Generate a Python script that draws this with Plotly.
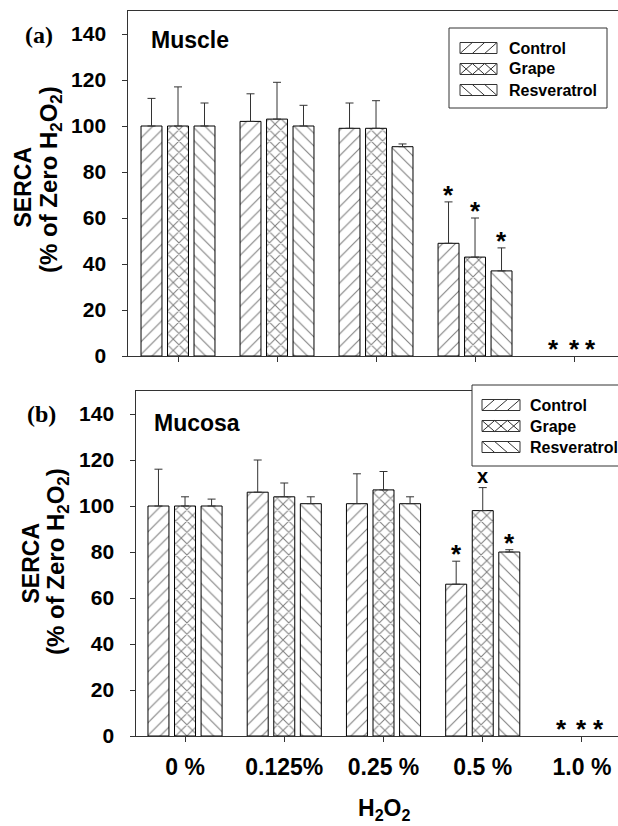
import plotly.graph_objects as go

W, H = 618, 826

# ---------------- data ----------------
categories = ["0 %", "0.125%", "0.25 %", "0.5 %", "1.0 %"]
series = ["Control", "Grape", "Resveratrol"]
y_ticks = [0, 20, 40, 60, 80, 100, 120, 140]

muscle_control = [100, 102, 99, 49, 0]
muscle_control_err = [12, 12, 11, 18, 0]
muscle_grape = [100, 103, 99, 43, 0]
muscle_grape_err = [17, 16, 12, 17, 0]
muscle_resveratrol = [100, 100, 91, 37, 0]
muscle_resveratrol_err = [10, 9, 1.2, 10, 0]

mucosa_control = [100, 106, 101, 66, 0]
mucosa_control_err = [16, 14, 13, 10, 0]
mucosa_grape = [100, 104, 107, 98, 0]
mucosa_grape_err = [4, 6, 8, 10, 0]
mucosa_resveratrol = [100, 101, 101, 80, 0]
mucosa_resveratrol_err = [3, 3, 3, 1, 0]

muscle_sig_control = ["", "", "", "*", "*"]
muscle_sig_grape = ["", "", "", "*", "*"]
muscle_sig_resveratrol = ["", "", "", "*", "*"]
mucosa_sig_control = ["", "", "", "*", "*"]
mucosa_sig_grape = ["", "", "", "x", "*"]
mucosa_sig_resveratrol = ["", "", "", "*", "*"]

# ---------------- style ----------------
SANS = "Liberation Sans, Arial, sans-serif"
SERIF = "Liberation Serif, Times New Roman, serif"
LINE = "#333333"
INK = "#000000"
BARGAP = 0.197
BARGROUPGAP = 0.21
SLOT = (1 - BARGAP) / 3
NBSP = "\u00a0"

patterns = {
    "Control": dict(shape="/", size=9, solidity=0.12),
    "Grape": dict(shape="x", size=8, solidity=0.24),
    "Resveratrol": dict(shape="\\", size=9, solidity=0.12),
}
hatch_kind = {"Control": "/", "Grape": "x", "Resveratrol": "\\"}


def px(x):
    return x / W


def py(y):
    return 1 - y / H


xpos = list(range(len(categories)))

panels = [
    dict(name="Muscle", xa="x", ya="y",
         vals=[muscle_control, muscle_grape, muscle_resveratrol],
         errs=[muscle_control_err, muscle_grape_err, muscle_resveratrol_err],
         sigs=[muscle_sig_control, muscle_sig_grape, muscle_sig_resveratrol]),
    dict(name="Mucosa", xa="x2", ya="y2",
         vals=[mucosa_control, mucosa_grape, mucosa_resveratrol],
         errs=[mucosa_control_err, mucosa_grape_err, mucosa_resveratrol_err],
         sigs=[mucosa_sig_control, mucosa_sig_grape, mucosa_sig_resveratrol]),
]

fig = go.Figure()
annotations = []
shapes = []

zero_offsets = [-0.21, 0.0, 0.165]

for p in panels:
    for j, s in enumerate(series):
        pat = patterns[s]
        vals = p["vals"][j]
        errs = p["errs"][j]
        # zero-valued groups have no visible bar or error bar, only the mark
        shown = [v if v > 0 else None for v in vals]
        fig.add_trace(go.Bar(
            x=xpos, y=shown, name=s, showlegend=False,
            xaxis=p["xa"], yaxis=p["ya"],
            marker=dict(color="white",
                        line=dict(color=INK, width=1),
                        pattern=dict(shape=pat["shape"], size=pat["size"],
                                     solidity=pat["solidity"],
                                     fgcolor=INK, bgcolor="white")),
            error_y=dict(type="data", symmetric=False,
                         array=errs,
                         arrayminus=[0] * len(categories),
                         color=LINE, thickness=1, width=4),
        ))
        for i, mark in enumerate(p["sigs"][j]):
            if not mark:
                continue
            top = vals[i] + errs[i]
            if vals[i] == 0:
                xx = i + zero_offsets[j]
            else:
                xx = i + (j - 1) * SLOT
            if mark == "*":
                fsize, ysh = 26, 7
            else:
                fsize, ysh = 20, 12
            annotations.append(dict(
                x=xx, y=top, xref=p["xa"], yref=p["ya"], text=mark,
                showarrow=False, xanchor="center", yanchor="middle",
                yshift=ysh, font=dict(family=SANS, size=fsize, color="black",
                                      weight="bold")))

# ---------------- axes ----------------
axis_common = dict(showline=True, linecolor=LINE, linewidth=1,
                   showgrid=False, zeroline=False, ticks="outside",
                   ticklen=5, tickwidth=1, tickcolor=LINE)

top_dom_y = [py(356), py(11)]
bot_dom_y = [py(736), py(391)]

yfont = dict(family=SANS, size=21, color="black", weight="bold")
ytext = [f"{v}{NBSP}{NBSP}" for v in y_ticks]

fig.update_layout(
    xaxis=dict(domain=[px(128), 1], range=[-0.505, 4.444], anchor="y",
               tickvals=xpos, ticktext=categories, showticklabels=False,
               mirror=True, **axis_common),
    yaxis=dict(domain=top_dom_y, range=[0, 150], anchor="x",
               tickvals=y_ticks, ticktext=ytext, tickfont=yfont,
               **axis_common),
    xaxis2=dict(domain=[px(136), 1], range=[-0.494, 4.363], anchor="y2",
                tickvals=xpos, ticktext=categories, ticklabelstandoff=5,
                tickfont=dict(family=SANS, size=23, color="black", weight="bold"),
                mirror=True, **axis_common),
    yaxis2=dict(domain=bot_dom_y, range=[0, 150], anchor="x2",
                tickvals=y_ticks, ticktext=ytext, tickfont=yfont,
                **axis_common),
)

# ---------------- text labels ----------------
def txt(x, y, text, size, family=SANS, angle=0, xanchor="center", bold=True):
    return dict(x=x, y=y, xref="paper", yref="paper", text=text,
                showarrow=False, xanchor=xanchor, yanchor="middle",
                textangle=angle,
                font=dict(family=family, size=size, color="black",
                          weight="bold" if bold else "normal"))

annotations += [
    txt(px(39), py(35), "(a)", 24, family=SERIF),
    txt(px(41), py(414.5), "(b)", 24, family=SERIF),
    txt(px(149), py(40), "Muscle", 23, xanchor="left"),
    txt(px(152), py(423), "Mucosa", 23, xanchor="left"),
    txt(px(23), py(187.5), "SERCA", 23, angle=-90),
    txt(px(50), py(180), "(% of Zero H<sub>2</sub>O<sub>2</sub>)", 24, angle=-90),
    txt(px(30), py(563.5), "SERCA", 23, angle=-90),
    txt(px(57), py(562), "(% of Zero H<sub>2</sub>O<sub>2</sub>)", 24, angle=-90),
]
annotations.append(dict(x=2, y=py(809), xref="x2", yref="paper",
                        text="H<sub>2</sub>O<sub>2</sub>", showarrow=False,
                        xanchor="center", yanchor="middle",
                        font=dict(family=SANS, size=23, color="black",
                                  weight="bold")))

# ---------------- custom legends ----------------
def hatch_path(x0, x1, yt, yb, kind):
    step = (x1 - x0) / 3
    parts = []
    for k in range(3):
        xa = x0 + k * step
        if kind in ("/", "x"):
            parts.append(f"M{px(xa):.5f},{py(yb):.5f} L{px(xa + step):.5f},{py(yt):.5f}")
        if kind in ("\\", "x"):
            parts.append(f"M{px(xa):.5f},{py(yt):.5f} L{px(xa + step):.5f},{py(yb):.5f}")
    return " ".join(parts)


legends = [
    dict(box=(449, 607, 28, 108), sw=(460, 497), rows=[48, 69, 90], tx=507),
    dict(box=(472, 660, 385, 466), sw=(482, 520), rows=[405, 426, 447], tx=528),
]
for lg in legends:
    bx0, bx1, by0, by1 = lg["box"]
    shapes.append(dict(type="rect", xref="paper", yref="paper",
                       x0=px(bx0), x1=px(bx1), y0=py(by1), y1=py(by0),
                       line=dict(color=LINE, width=1), fillcolor="white",
                       layer="above"))
    for s, ry in zip(series, lg["rows"]):
        sx0, sx1 = lg["sw"]
        yt, yb = ry - 5.5, ry + 5.5
        shapes.append(dict(type="rect", xref="paper", yref="paper",
                           x0=px(sx0), x1=px(sx1), y0=py(yb), y1=py(yt),
                           line=dict(color=LINE, width=1), fillcolor="white",
                           layer="above"))
        shapes.append(dict(type="path", xref="paper", yref="paper",
                           path=hatch_path(sx0, sx1, yt, yb, hatch_kind[s]),
                           line=dict(color=LINE, width=1), layer="above"))
        annotations.append(txt(px(lg["tx"]), py(ry), s, 16, xanchor="left"))

fig.update_layout(
    width=W, height=H,
    margin=dict(l=0, r=0, t=0, b=0, autoexpand=False),
    paper_bgcolor="white", plot_bgcolor="white",
    barmode="group", bargap=BARGAP, bargroupgap=BARGROUPGAP,
    showlegend=False,
    annotations=annotations, shapes=shapes,
    font=dict(family=SANS, color="black"),
)

fig.write_html(
    "out.html",
    config={"displayModeBar": False},
    post_script="document.body.style.margin='0';document.body.style.overflow='hidden';",
)
